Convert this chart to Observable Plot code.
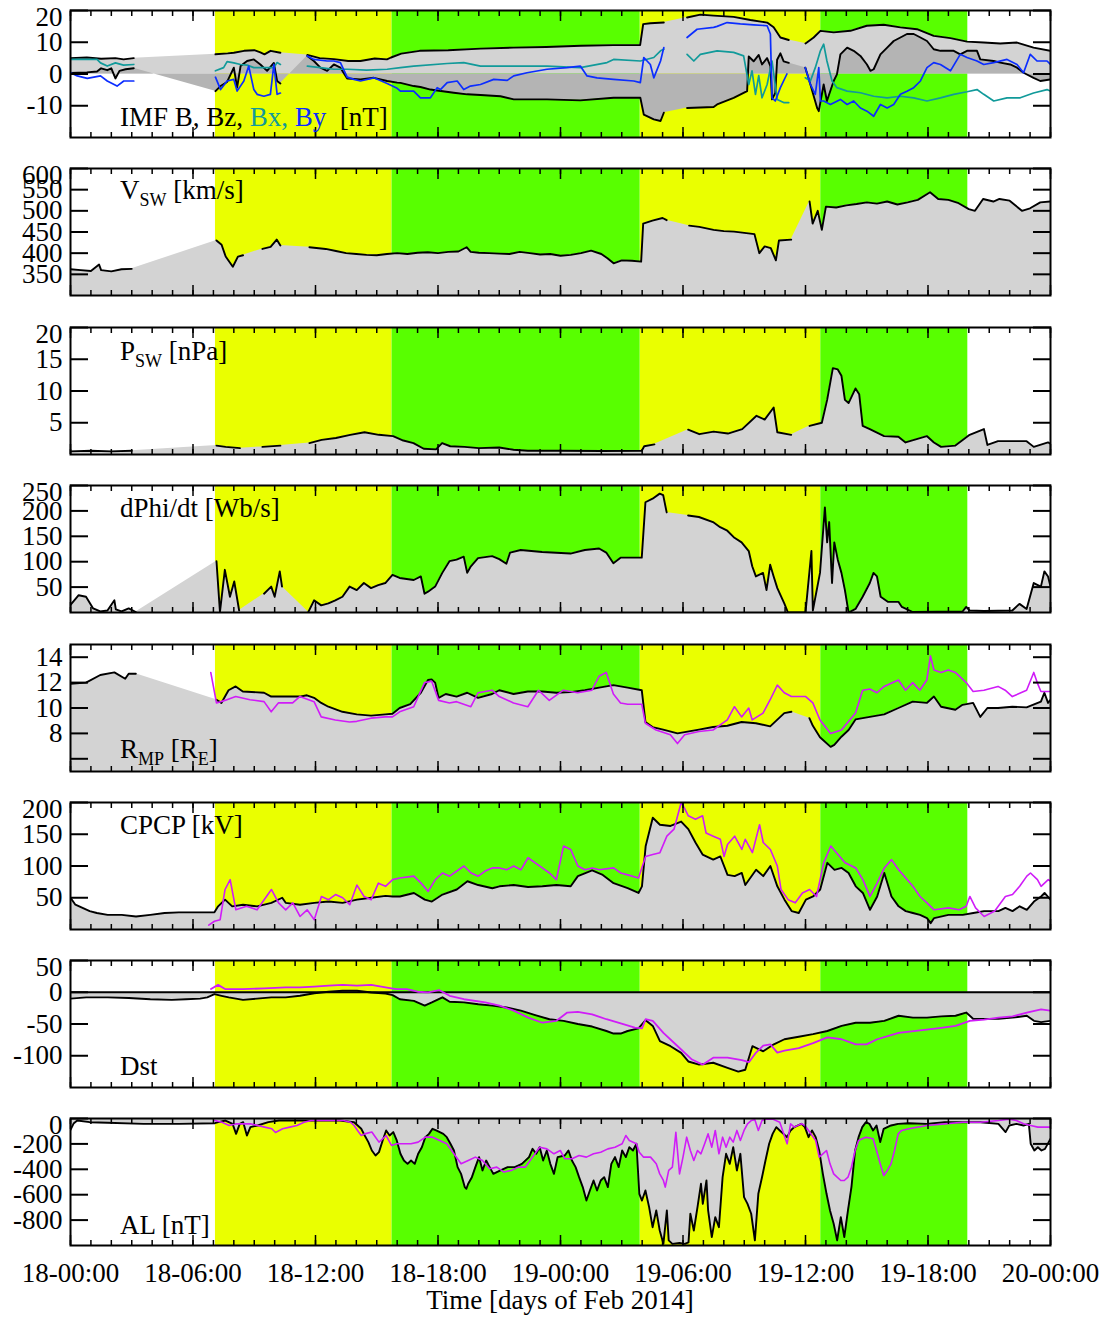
<!DOCTYPE html>
<html>
<head>
<meta charset="utf-8">
<script src="https://cdn.jsdelivr.net/npm/d3@7"></script>
<script src="https://cdn.jsdelivr.net/npm/@observablehq/plot@0.6"></script>
<style>
  body { margin: 0; background: #fff; }
  #chart { position: relative; width: 1112px; height: 1319px; font-family: "Liberation Serif", "Times New Roman", serif; }
  #chart svg { position: absolute; left: 0; overflow: visible; }
</style>
</head>
<body>
<div id="chart"></div>
<script>
// Time is hours since 2014-02-18 00:00 UT. A null value marks a data gap:
// lines break there, while the shaded fills bridge it.

const timeTicks = [0, 6, 12, 18, 24, 30, 36, 42, 48];
const timeTickLabels = ["18-00:00", "18-06:00", "18-12:00", "18-18:00", "19-00:00",
                        "19-06:00", "19-12:00", "19-18:00", "20-00:00"];
const hourTicks = d3.range(0, 49, 1);

// storm intervals (start, end) and their kind
const phaseBounds = [[7.1, 15.75], [15.75, 27.9], [27.9, 36.75], [36.75, 43.95]];
const phaseKind = ["I", "II", "I", "II"];

// ---- IMF [nT]
const imfB = [[0,5.0],[0.8,5.2],[1.5,4.8],[2.2,5.0],[2.6,4.6],[3.1,5.0],[5,null],
  [7.1,6.2],[7.7,6.5],[8.0,6.7],[8.5,7.3],[9.0,7.5],[9.3,6.8],[9.5,6.2],[9.8,7.3],[10.28,6.7],[11,null],
  [11.6,6.0],[12.2,5.0],[12.9,4.7],[13.6,4.1],[14.2,4.1],[14.9,4.9],[15.5,4.6],[15.7,5.2],[16.2,6.4],
  [17.1,7.3],[18.5,7.5],[20.1,8.0],[21.7,8.3],[23.3,8.5],[25.0,8.9],[26.6,9.1],[27.9,9.1],[28.05,15.7],
  [28.4,16.0],[29.06,16.2],[29.6,null],[30.2,17.8],[30.85,18.7],[31.5,18.4],[32.48,18.0],[33.3,17.0],
  [34.12,16.2],[34.44,14.7],[34.77,11.5],[35.18,10.7],[35.5,null],[36.0,9.6],[36.4,11.5],[36.73,13.6],
  [37.38,13.1],[38.2,13.6],[39.0,15.2],[39.83,15.5],[40.65,14.7],[41.46,14.1],[42.28,12.0],[43.1,11.3],
  [43.91,10.2],[44.73,9.9],[45.54,9.6],[46.36,9.9],[47.17,8.3],[48,7.3]];
const imfBz = [[0,0.3],[0.8,0.5],[1.3,0.8],[1.5,1.8],[1.8,1.2],[2.0,1.8],[2.2,-1.4],[2.4,1.0],[2.7,1.5],[3.1,1.8],[5,null],
  [7.1,-5.4],[7.35,-3.8],[7.67,-2.5],[8.0,2.0],[8.16,-4.3],[8.33,2.5],[8.65,4.1],[8.98,4.6],[9.3,3.0],[9.63,1.0],
  [9.96,3.5],[10.12,-2.2],[10.28,-3.0],[11,null],
  [11.6,5.7],[11.92,4.1],[12.24,2.0],[12.57,1.0],[12.9,3.0],[13.22,2.0],[13.55,-1.4],[14.2,-1.7],[14.86,-1.2],
  [15.51,-2.2],[16.0,-2.7],[16.16,-2.8],[16.81,-3.8],[17.14,-4.1],[17.63,-4.9],[17.96,-5.2],[18.77,-5.9],
  [19.43,-6.4],[20.08,-6.6],[21.06,-7.0],[21.71,-8.0],[23.34,-8.0],[24.97,-8.3],[26.6,-7.5],[27.91,-7.5],
  [28.08,-12.8],[28.57,-14.3],[28.9,-14.8],[29.06,-12.2],[29.6,null],[30.2,-10.7],[31.5,-10.4],[31.67,-9.6],
  [32.48,-7.5],[33.14,-5.4],[33.22,5.5],[33.46,4.0],[33.71,6.0],[33.87,3.0],[34.12,5.0],[34.28,2.5],[34.36,-8.0],
  [34.52,-6.0],[34.61,4.5],[34.77,6.5],[34.93,4.0],[35.18,3.5],[35.5,null],[35.99,2.0],[36.24,-3.3],[36.57,-10.7],
  [36.65,-11.7],[36.89,-3.3],[37.05,-8.5],[37.38,-2.2],[37.54,-0.1],[37.71,6.2],[38.04,8.3],[38.36,7.3],[38.69,5.7],
  [39.01,3.0],[39.18,1.0],[39.34,1.5],[39.67,6.2],[40.0,8.3],[40.32,10.4],[40.65,11.5],[40.97,12.6],[41.3,12.6],
  [41.63,11.5],[41.95,10.4],[42.28,7.8],[42.61,7.3],[43.26,7.3],[43.58,6.2],[43.91,7.3],[44.4,7.3],[44.56,4.6],
  [45.22,4.1],[45.54,3.6],[46.03,3.0],[46.36,2.0],[46.68,0.4],[47.17,-1.2],[47.5,-2.2],[48,-1.7]];
const imfBx = [[0,4.6],[1.3,4.6],[1.47,3.5],[1.8,2.5],[2.2,3.5],[2.6,2.8],[3.1,3.0],[5,null],
  [7.1,1.0],[7.5,2.0],[7.67,3.9],[8.0,3.5],[8.33,3.0],[8.65,2.8],[8.98,2.0],[9.47,2.0],[9.96,2.0],[10.12,3.6],[10.28,3.0],[11,null],
  [11.6,2.5],[12.24,2.0],[12.9,1.5],[13.55,1.5],[14.5,1.2],[15.51,1.5],[16.16,2.0],[16.81,2.5],[18.45,3.3],
  [19.26,3.6],[20.08,2.5],[21.71,2.5],[23.34,2.5],[24.97,2.0],[26.28,3.6],[26.6,4.6],[27.91,4.1],[28.57,5.2],
  [28.9,7.3],[29.06,7.8],[29.6,null],[30.2,6.2],[30.53,4.1],[30.85,6.2],[31.67,7.3],[32.48,6.8],[32.97,5.7],
  [33.22,-3.3],[33.38,1.0],[33.55,-6.4],[33.71,-0.5],[33.87,-7.5],[34.12,-3.3],[34.36,4.1],[34.61,-8.0],
  [34.93,-9.0],[35.18,-9.0],[35.5,null],[35.99,-1.2],[36.24,-2.2],[36.48,2.0],[36.73,7.3],[36.89,9.4],[37.05,4.1],
  [37.3,-2.2],[37.54,-4.3],[38.04,-5.4],[38.69,-5.9],[39.34,-7.0],[40.0,-7.5],[40.65,-7.0],[41.3,-7.5],
  [41.95,-8.5],[42.61,-7.5],[43.26,-6.4],[43.91,-5.6],[44.4,-4.9],[44.73,-6.4],[45.22,-8.5],[45.87,-7.5],
  [46.52,-7.5],[47.17,-6.0],[47.83,-4.9],[48,-5.4]];
const imfBy = [[0,0.4],[0.33,-0.6],[0.82,-1.4],[1.47,-0.6],[1.8,-2.2],[2.28,-3.8],[2.61,-2.2],[3.1,-2.2],[5,null],
  [7.1,-1.0],[7.35,-4.9],[7.67,-2.2],[8.0,-1.7],[8.16,-5.4],[8.49,-2.2],[8.73,2.5],[8.98,-4.9],[9.14,-6.4],
  [9.47,-7.0],[9.79,-6.4],[9.96,3.0],[10.12,-6.4],[10.28,-6.0],[11,null],
  [11.6,5.7],[11.92,4.6],[12.57,4.1],[12.9,4.1],[13.22,3.6],[13.55,-1.0],[13.88,-1.7],[14.2,-2.2],[14.86,-1.2],
  [15.51,-3.0],[16.0,-4.5],[16.16,-5.4],[16.81,-5.4],[17.14,-7.5],[17.63,-7.5],[17.96,-4.3],[18.12,-4.9],
  [18.45,-2.7],[18.94,-2.2],[19.26,-4.9],[19.59,-3.8],[20.08,-3.3],[20.73,-1.7],[21.39,-2.0],[21.71,-0.6],
  [22.36,0.4],[23.34,1.5],[24.32,2.0],[24.97,2.5],[25.3,-0.6],[25.79,-1.2],[26.6,-1.7],[27.59,-2.2],[27.91,-2.7],
  [28.08,5.2],[28.4,3.0],[28.57,-1.2],[28.9,4.1],[29.06,8.3],[29.6,null],[30.2,11.5],[30.69,14.1],[31.5,14.7],
  [31.67,15.0],[32.16,16.2],[32.81,15.8],[33.46,15.5],[34.12,15.2],[34.28,12.6],[34.36,-7.5],[34.52,-8.5],
  [34.77,-4.3],[35.09,0.0],[35.5,null],[35.99,2.0],[36.24,-3.3],[36.48,-6.4],[36.65,2.0],[36.73,-8.5],[36.89,-8.5],
  [37.22,-9.6],[37.71,-8.0],[38.04,-9.6],[38.36,-8.5],[38.69,-10.7],[39.01,-11.7],[39.34,-13.3],[39.67,-9.6],
  [40.0,-10.7],[40.32,-9.6],[40.65,-6.4],[40.97,-5.4],[41.3,-4.3],[41.63,-2.2],[41.95,2.0],[42.28,3.6],[42.61,3.0],
  [43.1,1.0],[43.58,6.2],[43.91,5.2],[44.4,4.1],[44.73,3.0],[45.22,3.6],[45.87,4.6],[46.36,3.0],[46.68,0.4],
  [47.01,6.2],[47.34,4.1],[47.83,4.1],[48,3.0]];

// ---- solar wind speed [km/s]
const vsw = [[0,362],[0.5,360],[1.0,358],[1.4,373],[1.5,360],[2.0,357],[2.5,362],[3.0,363],[5,null],
  [7.15,430],[7.4,420],[7.6,392],[7.95,368],[8.2,392],[8.45,395],[9,null],[9.4,410],[9.8,415],[10.1,432],[10.28,418],[11,null],
  [11.7,414],[12.5,410],[13,405],[13.5,400],[14,398],[14.5,396],[15,395],[15.5,398],[16,400],[16.5,398],[17,401],
  [17.5,402],[18,400],[18.5,403],[19,404],[19.4,414],[19.6,403],[20,401],[20.5,400],[21,399],[21.5,398],[22,403],
  [22.5,400],[23,397],[23.5,398],[24,394],[24.5,396],[25,400],[25.5,406],[26,398],[26.3,388],[26.6,376],[27,383],
  [27.5,382],[27.95,380],[28.05,470],[28.5,477],[29.0,483],[29.2,478],[29.7,null],[30.3,465],[30.8,462],[31.5,455],
  [32,452],[32.5,451],[33,448],[33.5,445],[33.74,400],[34.0,416],[34.3,412],[34.55,383],[34.7,430],[35.3,432],[35.7,null],
  [36.2,522],[36.35,470],[36.6,500],[36.8,455],[37.0,510],[37.5,508],[38,513],[38.5,516],[39,520],[39.5,517],
  [40,522],[40.5,515],[41,520],[41.5,526],[42.1,544],[42.5,528],[43,526],[43.5,518],[44,504],[44.3,500],[44.7,528],
  [45.2,522],[45.5,528],[46,524],[46.6,500],[47,506],[47.5,520],[48,522]];

// ---- solar wind dynamic pressure [nPa]
const psw = [[0,0.5],[1,0.6],[2,0.5],[3,0.6],[5,null],[7.15,1.4],[7.6,1.2],[8.3,1.0],[9,null],[9.4,1.2],[10.28,1.4],[11,null],
  [11.7,1.8],[12.3,2.3],[13,2.6],[13.7,3.1],[14.4,3.5],[15.1,3.1],[15.8,2.9],[16.3,2.2],[16.8,1.8],[17.3,0.9],
  [17.9,0.8],[18.2,1.8],[18.6,1.3],[19.3,1.2],[20,1.0],[21,1.1],[21.7,0.75],[22.4,0.6],[24,0.6],[26,0.55],
  [27.98,0.6],[28.1,1.3],[28.6,1.6],[29,null],[30.25,3.9],[30.8,3.2],[31.5,3.6],[32.2,3.3],[32.9,4.0],[33.6,6.1],
  [34.0,5.5],[34.44,7.4],[34.62,3.5],[35.3,3.1],[35.7,null],[36.2,4.5],[36.8,5.0],[37.06,8.6],[37.34,13.6],
  [37.58,13.4],[37.76,12.4],[37.93,8.6],[38.11,8.1],[38.45,10.4],[38.63,9.5],[38.8,4.5],[39.15,4.0],[39.85,2.9],
  [40.55,2.8],[40.9,1.9],[41.94,2.9],[42.29,1.9],[42.64,1.2],[43.34,1.4],[44.04,3.1],[44.74,4.0],[44.91,1.5],
  [45.43,2.1],[46.83,2.1],[47.18,1.2],[47.88,1.9],[48,1.7]];

// ---- reconnection rate dPhi/dt [Wb/s]
const dphi = [[0,15],[0.4,34],[0.76,31],[1.11,8],[1.46,2],[1.81,4],[2.15,24],[2.22,6],[2.5,2],[2.85,8],[3.2,1],[5,null],
  [7.15,101],[7.32,1],[7.56,84],[7.81,31],[8.02,61],[8.26,4],[9,null],[9.48,37],[9.83,51],[10.0,31],[10.25,81],[10.36,51],[11,null],
  [11.65,1],[11.93,24],[12.28,14],[12.63,18],[12.97,24],[13.32,31],[13.67,51],[14.02,44],[14.37,58],[14.72,48],
  [15.07,54],[15.42,58],[15.77,74],[16.12,68],[16.81,64],[17.16,71],[17.34,37],[17.51,41],[17.86,51],[18.21,78],
  [18.56,101],[18.91,104],[19.26,110],[19.43,78],[19.61,91],[19.96,107],[20.65,111],[21.0,105],[21.35,96],
  [21.53,118],[22.05,123],[23.1,119],[24.49,116],[25.19,123],[25.89,126],[26.24,118],[26.59,97],[26.94,108],
  [27.29,108],[27.98,108],[28.16,217],[28.51,224],[28.86,234],[29.03,231],[29.2,197],[29.7,null],[30.25,191],
  [30.78,188],[31.47,178],[31.82,168],[32.17,161],[32.52,147],[32.87,138],[33.22,121],[33.39,91],[33.57,71],
  [33.92,78],[34.09,44],[34.27,94],[34.44,71],[34.62,48],[34.96,18],[35.14,0],[36.0,0],[36.29,121],[36.36,4],
  [36.71,78],[36.95,207],[37.06,138],[37.16,178],[37.3,58],[37.41,138],[37.58,104],[37.76,78],[37.93,44],[38.11,0],
  [38.45,7],[38.8,31],[39.15,58],[39.33,78],[39.5,71],[39.68,31],[40.03,21],[40.55,21],[40.72,11],[41.25,1],
  [43.69,2],[43.87,11],[44.04,4],[44.74,3],[46.13,4],[46.48,17],[46.83,7],[47.18,58],[47.53,51],[47.7,81],[47.88,71],[48,51]];

// ---- magnetopause standoff distance [RE]: observed and modelled
const rmpObs = [[0,11.9],[0.76,12.0],[1.46,12.6],[2.15,12.8],[2.68,12.3],[2.85,12.7],[3.2,12.7],[5,null],
  [7.15,10.65],[7.39,10.4],[7.74,11.4],[8.09,11.7],[8.44,11.3],[9.48,11.2],[9.83,10.9],[10.53,10.9],[11.23,10.9],
  [11.58,11.0],[11.93,10.8],[12.28,10.4],[12.63,10.1],[13.32,9.7],[14.02,9.5],[14.72,9.4],[15.42,9.5],[15.77,9.55],
  [16.12,10.0],[16.64,10.3],[17.16,11.2],[17.51,12.2],[17.69,12.25],[17.86,12.0],[18.03,10.8],[18.38,11.1],
  [18.91,10.9],[19.43,11.2],[19.96,10.8],[20.65,11.1],[21.0,11.4],[21.7,11.1],[22.4,11.3],[23.1,11.3],[23.8,11.2],
  [24.49,11.25],[25.19,11.4],[25.89,11.6],[26.59,11.8],[26.94,11.7],[27.29,11.6],[27.98,11.4],[28.16,8.9],
  [28.51,8.5],[29.03,8.3],[29.73,8.0],[30.78,8.3],[31.47,8.5],[32.17,8.6],[32.87,8.9],[33.57,8.8],[34.27,8.55],
  [34.96,9.6],[35.31,9.7],[35.7,null],[36.19,9.2],[36.36,8.6],[36.71,7.7],[37.23,6.94],[37.41,7.1],[37.76,7.74],
  [38.11,8.27],[38.45,9.1],[39.15,9.3],[39.85,9.5],[40.55,10.0],[41.25,10.5],[41.94,10.4],[42.29,10.9],[42.64,10.1],
  [43.34,9.86],[43.69,10.25],[44.21,10.4],[44.56,9.3],[44.91,10.0],[45.43,10.0],[46.13,10.1],[46.83,10.05],
  [47.53,10.5],[47.7,11.2],[47.88,10.4],[48,10.65]];
const rmpModel = [[6.87,12.8],[7.15,10.4],[7.56,10.6],[8.09,10.9],[8.79,10.65],[9.48,10.5],[9.83,9.7],[10.18,10.4],
  [10.88,10.4],[11.23,10.9],[11.93,10.5],[12.28,9.3],[12.97,9.06],[13.67,8.9],[14.02,8.95],[14.72,9.2],[15.42,9.3],
  [15.77,9.3],[16.12,9.7],[16.81,10.1],[17.34,12.0],[17.69,12.1],[18.03,10.6],[18.56,10.4],[18.91,10.5],[19.61,10.1],
  [19.96,11.2],[20.65,11.4],[21.0,10.9],[21.7,10.4],[22.4,10.1],[22.92,11.4],[23.45,10.6],[24.14,11.4],[24.49,11.3],
  [24.84,11.2],[25.54,11.4],[25.89,12.5],[26.24,12.8],[26.59,11.1],[26.94,10.4],[27.29,10.3],[27.98,10.3],[28.16,8.8],
  [28.68,8.27],[29.38,7.9],[29.73,7.2],[30.08,7.9],[30.78,8.15],[31.47,8.27],[32.17,9.06],[32.52,10.1],[32.87,9.3],
  [33.22,10.0],[33.39,9.06],[33.92,9.6],[34.27,10.65],[34.62,11.8],[34.96,11.2],[35.31,10.9],[36.01,10.9],[36.36,10.4],
  [36.71,9.06],[37.23,8.0],[37.76,8.27],[38.45,9.6],[38.8,11.4],[39.15,11.5],[39.5,11.2],[39.85,11.7],[40.55,12.2],
  [40.9,11.4],[41.25,12.0],[41.6,11.4],[41.94,12.2],[42.12,14.1],[42.29,13.0],[42.64,12.8],[42.99,13.0],[43.34,12.8],
  [43.87,12.0],[44.21,11.3],[44.74,11.4],[45.43,11.7],[45.78,11.4],[46.13,10.9],[46.83,11.4],[47.18,12.8],[47.35,12.0],
  [47.53,11.3],[48,11.3]];

// ---- cross polar cap potential [kV]
const cpcpObs = [[0.0,50],[0.24,39],[0.59,34],[0.94,29],[1.29,26],[1.82,23],[2.51,23],[3.21,20.5],[3.91,23],[4.61,26],
  [5.31,27],[6.0,27],[7.05,27],[7.23,36.5],[7.57,47],[7.92,36.5],[8.45,39],[9.14,36.5],[9.84,42],[10.37,50],[10.54,42],
  [11.24,39],[11.94,42],[12.64,44],[13.33,42],[14.03,47],[14.73,50],[15.43,53],[15.78,52],[16.13,52],[16.82,57.5],
  [17.35,47],[17.7,44],[18.22,55],[18.92,63],[19.44,76],[19.97,70],[20.66,65],[21.01,68],[21.71,70],[22.41,67],
  [23.11,68],[23.8,70],[24.5,68],[24.85,84],[25.55,93],[26.07,86],[26.6,73],[27.29,65],[27.82,57.5],[27.99,68],
  [28.17,131],[28.52,176],[28.87,165],[29.39,163],[29.91,170],[30.26,158],[30.61,137],[30.96,118],[31.48,110],
  [31.83,115],[32.18,86],[32.53,84],[32.88,89],[33.05,70],[33.58,94],[33.93,84],[34.28,100],[34.62,68],[34.97,47],
  [35.32,29],[35.67,26],[36.02,47],[36.37,52],[36.72,63],[37.07,105],[37.42,94],[37.77,97],[38.11,89],[38.46,68],
  [38.81,57.5],[39.16,31],[39.51,52],[39.86,89],[40.21,52],[40.56,36.5],[40.91,29],[41.26,26],[41.61,23],[41.95,18],
  [42.13,10],[42.3,18],[43.0,23],[43.7,23],[44.22,26],[44.75,29],[45.45,29],[45.79,34],[46.14,29],[46.49,36.5],
  [46.84,31],[47.19,44],[47.54,52],[47.71,57.5],[48.0,47]];
const cpcpModel = [[6.77,7],[7.05,13],[7.33,15.5],[7.57,63],[7.82,78.5],[8.1,31],[8.62,36.5],[9.14,31],[9.84,63],
  [10.19,42],[10.54,31],[10.89,42],[11.24,20.5],[11.59,31],[11.94,15.5],[12.29,52],[12.64,47],[12.98,55],[13.33,50],
  [13.68,39],[14.03,70],[14.38,52],[14.73,47],[15.08,73],[15.43,68],[15.78,78.5],[16.13,81],[16.82,84],[17.17,73],
  [17.52,60],[17.87,78.5],[18.22,89],[18.57,84],[19.27,100],[19.62,89],[19.97,84],[20.31,92],[20.66,97],[21.01,97],
  [21.36,94],[21.71,100],[22.06,94],[22.41,113],[22.76,105],[23.11,97],[23.46,89],[23.8,78.5],[24.15,131.5],[24.5,126],
  [24.85,100],[25.2,94],[25.55,97],[25.9,94],[26.6,97],[26.95,89],[27.29,86],[27.82,81],[28.17,115],[28.52,118],
  [28.87,121],[29.21,147],[29.56,158],[29.91,200],[30.09,190],[30.26,179],[30.61,173.5],[30.96,179],[31.13,152],
  [31.48,147],[31.83,142],[32.01,115],[32.18,134],[32.53,147],[32.88,126],[33.05,142],[33.4,121],[33.75,165],
  [33.93,137],[34.28,126],[34.62,100],[34.8,63],[35.15,47],[35.5,42],[35.85,57.5],[36.2,63],[36.54,52],[36.89,105],
  [37.24,131.5],[37.59,118],[37.94,105],[38.46,97],[38.81,78.5],[39.16,52],[39.51,73],[39.86,97],[40.21,110],
  [40.56,94],[40.91,81],[41.26,68],[41.61,52],[41.95,42],[42.3,31],[43.0,34],[43.52,31],[43.87,36.5],[44.05,52],
  [44.33,34],[44.75,20.5],[45.27,29],[45.79,52],[46.14,55],[46.49,68],[46.84,84],[47.02,89],[47.36,78.5],[47.54,68],
  [47.89,78.5],[48.0,76]];

// ---- Dst [nT]
const dstObs = [[0,-10],[0.77,-8],[1.82,-8],[2.86,-9],[3.91,-11],[4.96,-12],[5.65,-11],[6.35,-10],[6.7,-8],[7.05,-3],
  [7.4,-5.6],[7.75,-8],[8.45,-12],[9.14,-10],[9.84,-8],[10.54,-8],[11.24,-5.6],[11.94,-1.5],[12.64,0.8],[13.33,2.4],
  [14.03,2.4],[14.73,-0.3],[15.43,-2],[15.78,-4.5],[16.13,-11],[16.82,-13.5],[17.35,-21],[17.7,-16],[18.22,-8],
  [18.57,-15],[19.27,-16],[19.97,-19],[20.66,-21],[21.36,-24],[22.06,-29],[22.76,-36],[23.46,-42.5],[24.15,-45],
  [24.85,-50],[25.55,-54],[26.25,-61],[26.6,-65],[26.95,-65],[27.29,-61],[27.82,-57],[28.17,-44],[28.52,-53],
  [28.87,-77],[29.39,-85],[29.91,-95.5],[30.26,-109],[30.79,-114],[31.48,-111],[32.18,-119],[32.71,-125],[33.05,-122],
  [33.4,-85],[33.93,-93],[34.45,-82],[34.97,-74],[35.67,-70],[36.37,-66],[37.07,-61],[37.77,-53],[38.46,-48],
  [39.16,-48],[39.86,-45],[40.56,-37],[41.26,-40],[41.95,-40],[42.65,-38],[43.35,-37],[43.87,-32],[44.22,-42],
  [44.75,-42],[45.45,-42],[46.14,-40],[46.84,-37],[47.19,-45],[47.54,-47],[48.0,-45]];
const dstModel = [[6.88,5],[7.23,11.6],[7.57,5],[8.45,5],[9.49,6],[10.54,7.7],[11.24,7.7],[11.94,9],[12.64,10.3],
  [13.33,11.6],[14.03,10.3],[14.73,11.6],[15.43,7.7],[15.95,5],[16.47,5],[17.0,0.8],[17.52,-0.3],[18.05,3.5],
  [18.57,-5.6],[19.27,-11],[20.31,-16],[21.01,-21],[21.71,-29],[22.41,-40],[23.11,-48],[23.8,-45],[24.33,-32],
  [24.85,-31],[25.55,-35],[26.25,-42.5],[26.95,-49],[27.64,-55.6],[27.99,-57],[28.17,-42.5],[28.52,-45],[29.04,-64],
  [29.74,-85],[30.44,-106],[30.96,-114],[31.48,-103],[32.18,-103],[32.88,-107],[33.23,-110],[33.58,-95],[33.93,-84],
  [34.28,-82],[34.62,-95],[34.97,-92],[35.67,-88],[36.37,-80],[37.07,-71],[37.77,-74],[38.46,-82],[38.99,-82],
  [39.51,-74],[40.56,-64],[41.61,-60],[42.65,-56],[43.35,-53],[44.05,-45],[44.75,-43],[45.45,-40],[46.14,-38],
  [46.84,-32],[47.54,-27],[48.0,-29]];

// ---- AL index [nT]
const alObs = [[0.0,-90],[0.15,-40],[0.33,-16],[0.94,-29],[1.82,-34],[3.57,-42],[5.32,-42],[7.07,-37],[7.24,-29],
  [7.59,-16],[7.94,-42],[8.11,-121],[8.29,-42],[8.46,-29],[8.64,-134],[8.81,-68],[9.16,-55],[9.69,-29],[10.21,-16],
  [11.44,-16],[12.31,-16],[13.19,-16],[13.89,-29],[14.24,-81],[14.41,-134],[14.59,-186],[14.76,-252],[14.94,-291],
  [15.11,-265],[15.29,-173],[15.46,-94],[15.63,-134],[15.81,-107],[15.98,-173],[16.16,-278],[16.33,-331],[16.51,-357],
  [16.68,-331],[16.86,-357],[17.03,-278],[17.21,-226],[17.38,-147],[17.56,-121],[17.73,-81],[17.91,-94],[18.26,-121],
  [18.43,-147],[18.61,-199],[18.78,-252],[18.96,-383],[19.13,-436],[19.31,-540],[19.39,-553],[19.48,-514],[19.66,-462],
  [19.83,-383],[20.01,-304],[20.18,-409],[20.36,-331],[20.53,-383],[20.71,-436],[21.06,-409],[21.41,-383],[21.76,-383],
  [22.11,-357],[22.46,-304],[22.63,-239],[22.81,-278],[22.98,-226],[23.15,-331],[23.33,-252],[23.5,-357],[23.68,-436],
  [23.86,-304],[24.21,-291],[24.39,-252],[24.56,-331],[24.74,-383],[24.91,-462],[25.09,-540],[25.27,-646],[25.44,-567],
  [25.62,-488],[25.79,-567],[25.97,-488],[26.14,-462],[26.32,-540],[26.49,-357],[26.67,-304],[26.85,-383],[27.02,-252],
  [27.2,-304],[27.37,-226],[27.55,-252],[27.72,-199],[27.86,-593],[27.99,-646],[28.16,-567],[28.34,-698],[28.51,-856],
  [28.69,-724],[28.86,-882],[29.04,-987],[29.21,-724],[29.3,-960],[29.48,-987],[29.83,-980],[30.09,-987],[30.27,-975],
  [30.36,-750],[30.53,-882],[30.71,-698],[30.88,-514],[30.97,-672],[31.15,-488],[31.23,-724],[31.41,-934],[31.58,-777],
  [31.76,-856],[31.94,-462],[32.11,-278],[32.29,-357],[32.46,-226],[32.64,-409],[32.81,-278],[32.99,-619],[33.16,-672],
  [33.34,-750],[33.52,-960],[33.69,-593],[33.87,-462],[34.04,-331],[34.22,-199],[34.39,-121],[34.57,-68],[34.74,-94],
  [34.92,-121],[35.1,-147],[35.27,-94],[35.45,-68],[35.8,-42],[35.97,-68],[36.15,-147],[36.32,-94],[36.5,-147],
  [36.67,-252],[36.85,-436],[37.03,-593],[37.2,-724],[37.38,-829],[37.55,-960],[37.73,-777],[37.9,-934],[38.08,-724],
  [38.25,-540],[38.43,-252],[38.6,-147],[38.78,-68],[38.96,-29],[39.13,-42],[39.31,-94],[39.48,-55],[39.66,-186],
  [39.83,-81],[40.19,-55],[40.54,-42],[41.06,-37],[41.94,-42],[42.82,-29],[43.7,-29],[44.57,-29],[45.45,-42],
  [45.8,-107],[45.98,-55],[46.33,-42],[46.68,-55],[46.94,-42],[47.03,-199],[47.21,-252],[47.38,-226],[47.56,-252],
  [47.73,-239],[47.91,-186],[48,-160]];
const alModel = [[7.07,-16],[7.42,-29],[7.77,-55],[8.11,-42],[8.81,-42],[9.51,-68],[9.86,-81],[10.04,-110],[10.39,-81],
  [10.74,-68],[11.09,-55],[11.44,-29],[11.79,-16],[12.31,-16],[13.36,-16],[13.71,-29],[13.89,-55],[14.06,-94],
  [14.24,-134],[14.41,-121],[14.76,-107],[14.94,-147],[15.11,-186],[15.29,-160],[15.46,-134],[15.72,-212],[15.98,-199],
  [16.68,-199],[17.03,-186],[17.38,-147],[17.73,-147],[18.08,-173],[18.43,-199],[18.78,-278],[19.13,-357],[19.48,-331],
  [19.83,-304],[20.18,-331],[20.53,-396],[20.88,-383],[21.23,-422],[21.58,-409],[21.93,-383],[22.28,-383],[22.63,-304],
  [22.98,-226],[23.33,-239],[23.68,-278],[23.99,-252],[24.21,-317],[24.56,-317],[24.91,-291],[25.27,-304],[25.62,-278],
  [25.97,-265],[26.32,-239],[26.67,-226],[27.02,-199],[27.2,-134],[27.37,-173],[27.72,-199],[27.86,-265],[28.06,-304],
  [28.41,-304],[28.69,-357],[28.86,-436],[29.04,-488],[29.13,-540],[29.3,-409],[29.48,-383],[29.65,-108],[29.83,-436],
  [30.0,-304],[30.18,-147],[30.36,-252],[30.53,-331],[30.71,-252],[30.88,-278],[31.06,-199],[31.23,-121],[31.41,-226],
  [31.58,-94],[31.76,-278],[31.94,-147],[32.11,-226],[32.29,-147],[32.46,-186],[32.64,-94],[32.81,-173],[32.99,-94],
  [33.16,-42],[33.34,-16],[33.52,-10],[33.69,-94],[33.87,-16],[34.04,-5],[34.39,-5],[34.74,-29],[35.1,-199],[35.27,-42],
  [35.45,-68],[35.8,-42],[35.97,-55],[36.15,-94],[36.5,-173],[36.67,-304],[36.85,-278],[37.03,-252],[37.2,-357],
  [37.38,-436],[37.55,-462],[37.73,-488],[37.9,-488],[38.08,-462],[38.25,-383],[38.43,-252],[38.6,-173],[38.78,-160],
  [38.96,-147],[39.31,-160],[39.48,-252],[39.66,-357],[39.83,-449],[40.01,-409],[40.19,-357],[40.36,-252],[40.54,-121],
  [40.71,-94],[41.06,-81],[41.94,-55],[42.82,-42],[43.7,-29],[44.57,-29],[45.45,-16],[45.98,-5],[46.33,-16],
  [46.68,-42],[47.03,-55],[47.38,-68],[47.91,-68],[48,-68]];

// ---- y axis ticks per panel
const imfTicks = [-10, 0, 10, 20], imfTickLabels = ["-10", "0", "10", "20"];
const vswTicks = [350, 400, 450, 500, 550, 600], vswTickLabels = ["350", "400", "450", "500", "550", "600"];
const pswTicks = [5, 10, 15, 20], pswTickLabels = ["5", "10", "15", "20"];
const dphiTicks = [50, 100, 150, 200, 250], dphiTickLabels = ["50", "100", "150", "200", "250"];
const rmpTicks = [6, 8, 10, 12, 14], rmpTickLabels = ["", "8", "10", "12", "14"];
const cpcpTicks = [50, 100, 150, 200], cpcpTickLabels = ["50", "100", "150", "200"];
const dstTicks = [-100, -50, 0, 50], dstTickLabels = ["-100", "-50", "0", "50"];
const alTicks = [-800, -600, -400, -200, 0], alTickLabels = ["-800", "-600", "-400", "-200", "0"];

// ---------------------------------------------------------------------------
const YELLOW = "#eaff00", GREEN = "#58ff00", SHADE = "#d3d3d3", SHADE_DARK = "#b4b4b4";
const TEAL = "#119a9a", BLUE = "#0b2dff", MAGENTA = "#d01cf8";
const FONT = '"Liberation Serif", "Times New Roman", serif';
const W = 1112, ML = 70, MR = 62, MT = 12, FH = 127, MB = 12, MB_LAST = 74;
const frameTops = [9.5, 168, 326.5, 485, 643.5, 801.5, 960, 1118];
const chart = document.getElementById("chart");

const tx = d => d[0], ty = d => d[1];
const solid = s => s.filter(d => d[1] != null);     // fills bridge the gaps
const line = (s, stroke, w = 1.9) => Plot.line(s, {x: tx, y: ty, stroke, strokeWidth: w, clip: true});
const fillFrom = (s, base, fill = SHADE) =>
  Plot.areaY(solid(s), {x: tx, y1: () => base, y2: ty, fill, clip: true});

function phaseRects() {
  const pick = k => phaseBounds.filter((d, i) => phaseKind[i] === k);
  return [
    Plot.rect(pick("I"), {x1: d => d[0], x2: d => d[1], fill: YELLOW}),
    Plot.rect(pick("II"), {x1: d => d[0], x2: d => d[1], fill: GREEN})
  ];
}

function frameAxes(ticks, tickLabels, yMax) {
  const fmt = d => tickLabels[ticks.indexOf(d)];
  return [
    // a label sitting on the top edge is nudged down to stay inside the panel row
    Plot.axisY(ticks.filter(d => d < yMax), {anchor: "left", tickSize: 0, tickPadding: 8, label: null, tickFormat: fmt}),
    Plot.axisY(ticks.filter(d => d >= yMax), {anchor: "left", tickSize: 0, tickPadding: 8, dy: 7, label: null, tickFormat: fmt}),
    Plot.axisY(ticks, {anchor: "left", tickSize: 18, dx: 18, strokeWidth: 2, label: null, tickFormat: () => ""}),
    Plot.axisY(ticks, {anchor: "right", tickSize: 18, dx: -18, strokeWidth: 2, label: null, tickFormat: () => ""}),
    Plot.axisX(hourTicks, {anchor: "bottom", tickSize: 5, dy: -5, strokeWidth: 1.5, label: null, tickFormat: () => ""}),
    Plot.axisX(hourTicks, {anchor: "top", tickSize: 5, dy: 5, strokeWidth: 1.5, label: null, tickFormat: () => ""}),
    Plot.axisX(timeTicks, {anchor: "bottom", tickSize: 10, dy: -10, strokeWidth: 1.5, label: null, tickFormat: () => ""}),
    Plot.axisX(timeTicks, {anchor: "top", tickSize: 10, dy: 10, strokeWidth: 1.5, label: null, tickFormat: () => ""}),
    Plot.frame({stroke: "black", strokeWidth: 2})
  ];
}

function panel(i, {domain, ticks, tickLabels, layers, last = false}) {
  const mb = last ? MB_LAST : MB;
  const extra = last ? [Plot.axisX(timeTicks, {anchor: "bottom", tickSize: 0, tickPadding: 17, label: null,
      tickFormat: d => timeTickLabels[timeTicks.indexOf(d)]})] : [];
  const svg = Plot.plot({
    width: W, height: MT + FH + mb,
    marginLeft: ML, marginRight: MR, marginTop: MT, marginBottom: mb,
    x: {domain: [0, 48]},
    y: {domain},
    style: {background: "transparent", fontFamily: FONT, fontSize: "27px", color: "black", overflow: "visible"},
    marks: [...phaseRects(), ...layers, ...frameAxes(ticks, tickLabels, domain[1]), ...extra]
  });
  svg.style.top = (frameTops[i] - MT) + "px";
  chart.appendChild(svg);
  return svg;
}

// panel title drawn as rich text (colored parts and subscripts)
function title(svg, dyFromFrameTop, parts) {
  const t = d3.select(svg).append("text")
    .attr("x", 120).attr("y", MT + dyFromFrameTop)
    .attr("text-anchor", "start")
    .attr("font-family", FONT).attr("font-size", 27).attr("fill", "black")
    .style("white-space", "pre");
  for (const p of parts) {
    const s = t.append("tspan").text(p.text);
    if (p.fill) s.attr("fill", p.fill);
    if (p.sub) s.attr("font-size", 18).attr("dy", 7);
    if (p.after) s.attr("dy", -7);
  }
}

// 1. IMF
let s = panel(0, {domain: [-20, 20], ticks: imfTicks, tickLabels: imfTickLabels, layers: [
  fillFrom(imfB, 0), fillFrom(imfBz, 0, SHADE_DARK),
  line(imfB, "black"), line(imfBz, "black"), line(imfBx, TEAL, 1.7), line(imfBy, BLUE, 1.7)]});
title(s, 115.5, [{text: "IMF B, Bz, "}, {text: "Bx, ", fill: TEAL}, {text: "By", fill: BLUE}, {text: "  [nT]"}]);

// 2. Vsw
s = panel(1, {domain: [300, 600], ticks: vswTicks, tickLabels: vswTickLabels, layers: [
  fillFrom(vsw, 300), line(vsw, "black")]});
title(s, 31, [{text: "V"}, {text: "SW", sub: true}, {text: " [km/s]", after: true}]);

// 3. Psw
s = panel(2, {domain: [0, 20], ticks: pswTicks, tickLabels: pswTickLabels, layers: [
  fillFrom(psw, 0), line(psw, "black")]});
title(s, 33, [{text: "P"}, {text: "SW", sub: true}, {text: " [nPa]", after: true}]);

// 4. dPhi/dt
s = panel(3, {domain: [0, 250], ticks: dphiTicks, tickLabels: dphiTickLabels, layers: [
  fillFrom(dphi, 0), line(dphi, "black")]});
title(s, 32, [{text: "dPhi/dt [Wb/s]"}]);

// 5. RMP
s = panel(4, {domain: [5, 15], ticks: rmpTicks, tickLabels: rmpTickLabels, layers: [
  fillFrom(rmpObs, 5), line(rmpObs, "black"), line(rmpModel, MAGENTA, 1.6)]});
title(s, 114, [{text: "R"}, {text: "MP", sub: true}, {text: " [R", after: true}, {text: "E", sub: true}, {text: "]", after: true}]);

// 6. CPCP
s = panel(5, {domain: [0, 200], ticks: cpcpTicks, tickLabels: cpcpTickLabels, layers: [
  fillFrom(cpcpObs, 0), line(cpcpObs, "black"), line(cpcpModel, MAGENTA, 1.6)]});
title(s, 32, [{text: "CPCP [kV]"}]);

// 7. Dst
s = panel(6, {domain: [-150, 50], ticks: dstTicks, tickLabels: dstTickLabels, layers: [
  fillFrom(dstObs, 0), Plot.ruleY([0], {stroke: "black", strokeWidth: 2}),
  line(dstObs, "black"), line(dstModel, MAGENTA, 1.8)]});
title(s, 115, [{text: "Dst"}]);

// 8. AL
s = panel(7, {domain: [-1000, 0], ticks: alTicks, tickLabels: alTickLabels, last: true, layers: [
  fillFrom(alObs, 0), line(alObs, "black"), line(alModel, MAGENTA, 1.6)]});
title(s, 116, [{text: "AL [nT]"}]);
d3.select(s).append("text")
  .attr("x", ML + (W - ML - MR) / 2).attr("y", MT + FH + 64)
  .attr("text-anchor", "middle").attr("font-family", FONT).attr("font-size", 27)
  .text("Time [days of Feb 2014]");
</script>
</body>
</html>
